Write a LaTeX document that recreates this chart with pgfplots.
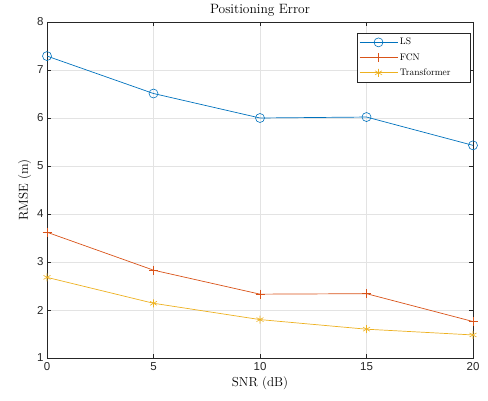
\documentclass[border=0pt]{standalone}
\usepackage{fontspec}
\usepackage{pgfplots}
\pgfplotsset{compat=1.18}
\newfontfamily\tickfont{Liberation Sans}
\definecolor{mblue}{rgb}{0,0.447,0.741}
\definecolor{mred}{rgb}{0.85,0.325,0.098}
\definecolor{myellow}{rgb}{0.929,0.694,0.125}
\definecolor{axgray}{rgb}{0.15,0.15,0.15}
\begin{document}
\begin{tikzpicture}
\begin{axis}[
    scale only axis,
    width=426pt, height=336pt,
    xmin=0, xmax=20, ymin=1, ymax=8,
    xtick={0,5,10,15,20},
    ytick={1,2,3,4,5,6,7,8},
    tick align=inside,
    major tick length=4pt,
    axis line style={draw=axgray, line width=0.6pt},
    every tick/.style={draw=axgray, line width=0.5pt},
    grid=major,
    major grid style={draw=gray!22, line width=0.4pt},
    ticklabel style={font=\tickfont\fontsize{11.5}{13}\selectfont, text=axgray},
    xticklabel style={yshift=-1pt},
    /pgf/number format/assume math mode=true,
    title={Positioning Error},
    title style={font=\fontsize{13.5}{15}\selectfont, yshift=-4pt},
    xlabel={SNR (dB)},
    ylabel={RMSE (m)},
    label style={font=\fontsize{13}{15}\selectfont},
    xlabel style={yshift=1pt},
    ylabel style={yshift=-1pt},
    legend style={at={(0.995,0.967)}, anchor=north east, draw=axgray,
        font=\fontsize{9.5}{11}\selectfont, row sep=3pt, inner xsep=2pt, inner ysep=3pt},
    legend cell align=left,
    legend image code/.code={
        \draw[mark repeat=2, mark phase=2] plot coordinates {(0pt,0pt) (19pt,0pt) (38pt,0pt)};
    },
]
\addplot[color=mblue, line width=0.7pt, mark=o, mark size=4.5pt, mark options={line width=0.6pt}] coordinates {
    (0,7.29) (5,6.51) (10,6.00) (15,6.02) (20,5.43)
};
\addlegendentry{LS}
\addplot[color=mred, line width=0.7pt, mark=+, mark size=4.5pt, mark options={line width=0.6pt}] coordinates {
    (0,3.62) (5,2.83) (10,2.33) (15,2.34) (20,1.76)
};
\addlegendentry{FCN}
\addplot[color=myellow, line width=0.7pt, mark=asterisk, mark size=4pt, mark options={line width=0.6pt}] coordinates {
    (0,2.68) (5,2.14) (10,1.80) (15,1.60) (20,1.48)
};
\addlegendentry{Transformer\hspace*{16pt}}
\end{axis}
\pgfresetboundingbox
\useasboundingbox ([xshift=-47pt,yshift=-42pt]current axis.south west) rectangle ([xshift=15pt,yshift=22pt]current axis.north east);
\end{tikzpicture}
\end{document}
